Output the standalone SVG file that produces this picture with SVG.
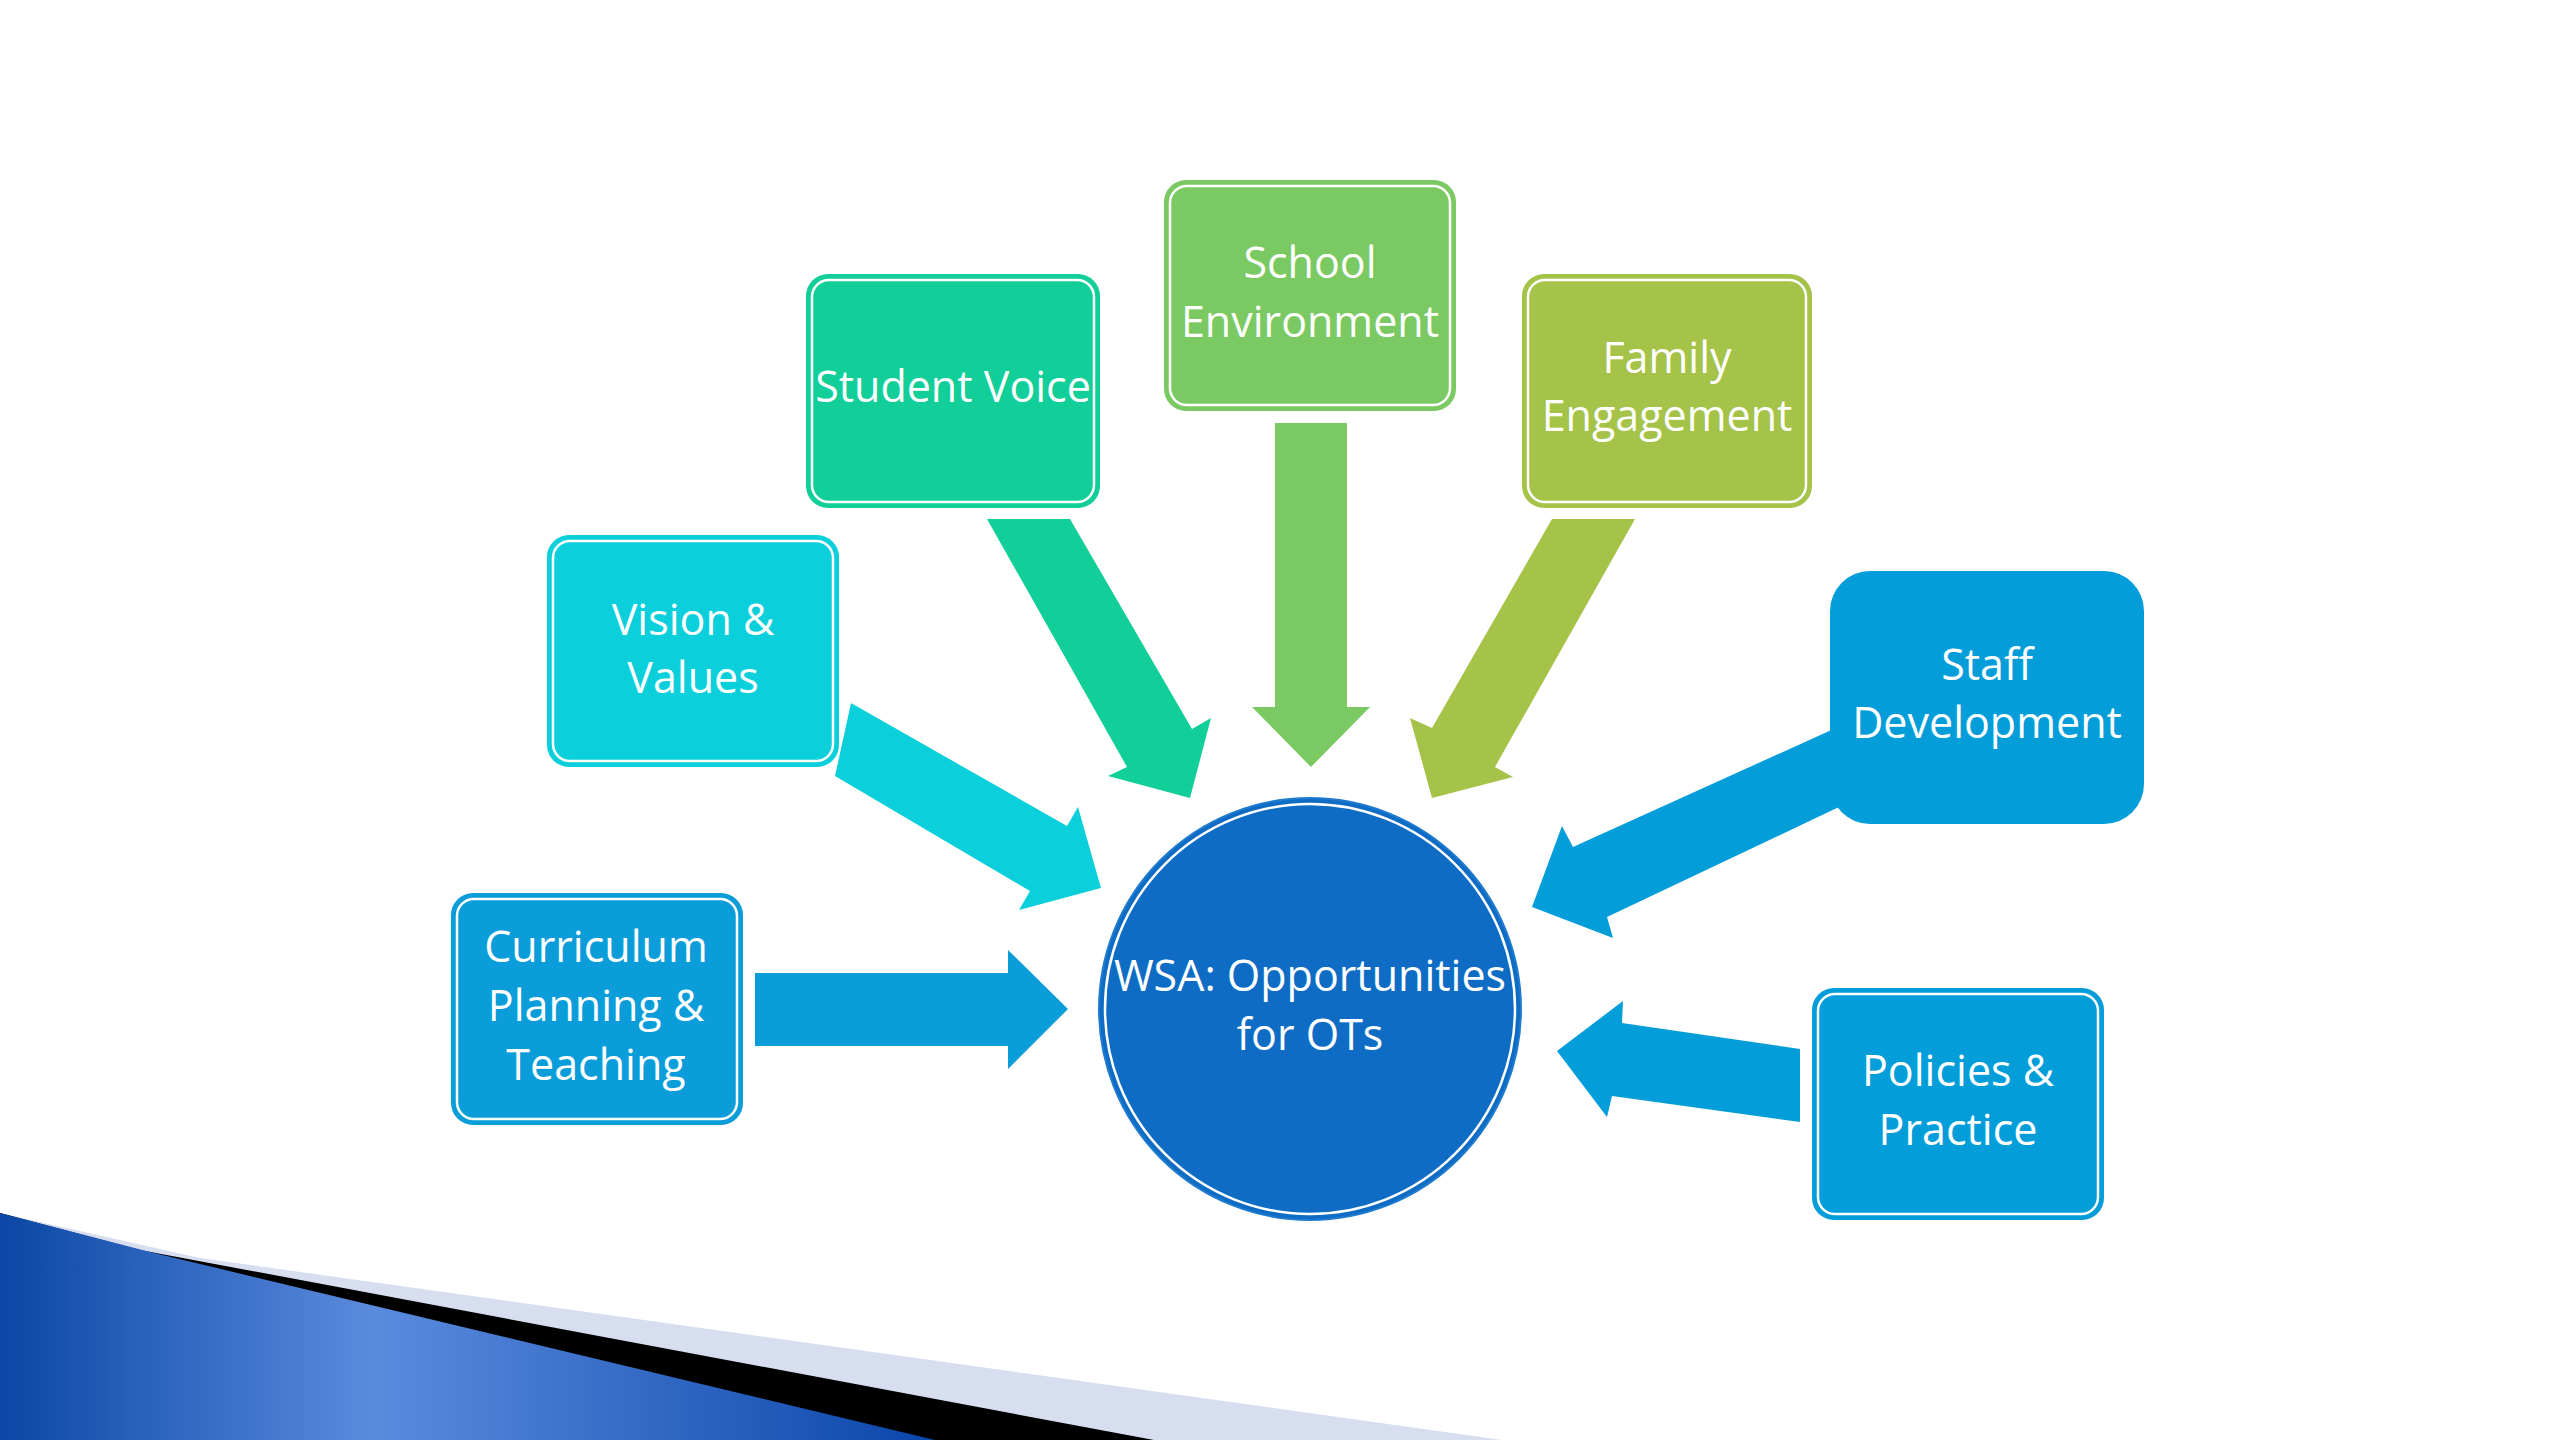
<svg xmlns="http://www.w3.org/2000/svg" width="2560" height="1440" viewBox="0 0 2560 1440">
<defs>
<style>
.lbl{font-family:"Open Sans","Noto Sans","DejaVu Sans",sans-serif;font-size:43px;fill:#ffffff;text-anchor:middle}
.inner{fill:none;stroke:#ffffff;stroke-width:2.5}
</style>
<linearGradient id="bg" x1="0" y1="0" x2="1" y2="0">
<stop offset="0" stop-color="#0B47A6"/>
<stop offset="0.4" stop-color="#5B8BDD"/>
<stop offset="1" stop-color="#0A46AB"/>
</linearGradient>
</defs>
<rect width="2560" height="1440" fill="#ffffff"/>
<g id="decoration">
<polygon points="0,1213 200,1258 1502,1440 0,1440" fill="#D6DEF0"/>
<polygon points="0,1213 140,1250 1154,1440 0,1440" fill="#000000"/>
<polygon points="0,1213 150,1252 935,1440 0,1440" fill="url(#bg)"/>
</g>
<g id="connectors">
<polygon points="755,973 1008,973 1008,950 1068,1009 1008,1069 1008,1046 755,1046" fill="#0A9DD9"/>
<polygon points="851,703 1067,826 1078,807 1101,888 1019,910 1030,891 835,776" fill="#0BCFDB"/>
<polygon points="987,519 1070,519 1192,729 1211,718 1190,798 1108,776 1127,767" fill="#12CE98"/>
<polygon points="1275,423 1347,423 1347,707 1370,707 1311,767 1252,707 1275,707" fill="#7BC962"/>
<polygon points="1552,519 1635,519 1495,767 1513,777 1432,798 1410,718 1432,728" fill="#A5C249"/>
<polygon points="1860,717 1573,847 1562,826 1532,907 1613,938 1607,917 1860,797" fill="#039DD9"/>
<polygon points="1800,1049 1622,1023 1623,1001 1557,1051 1607,1117 1612,1096 1800,1122" fill="#039DD9"/>
</g>
<g id="node-curriculum">
<rect x="451" y="893" width="292" height="232" rx="22" fill="#0A9DD9"/>
<rect x="457" y="899" width="280" height="220" rx="17" class="inner"/>
<text class="lbl" x="596" y="962">Curriculum</text>
<text class="lbl" x="596" y="1021">Planning &amp;</text>
<text class="lbl" x="596" y="1080">Teaching</text>
</g>
<g id="node-vision">
<rect x="547" y="535" width="292" height="232" rx="22" fill="#0BCFDB"/>
<rect x="553" y="541" width="280" height="220" rx="17" class="inner"/>
<text class="lbl" x="693" y="635">Vision &amp;</text>
<text class="lbl" x="693" y="693">Values</text>
</g>
<g id="node-student">
<rect x="806" y="274" width="294" height="234" rx="22" fill="#12CE98"/>
<rect x="812" y="280" width="282" height="222" rx="17" class="inner"/>
<text class="lbl" x="953" y="402">Student Voice</text>
</g>
<g id="node-school">
<rect x="1164" y="180" width="292" height="231" rx="22" fill="#7BC962"/>
<rect x="1170" y="186" width="280" height="219" rx="17" class="inner"/>
<text class="lbl" x="1310" y="278">School</text>
<text class="lbl" x="1310" y="337">Environment</text>
</g>
<g id="node-family">
<rect x="1522" y="274" width="290" height="234" rx="22" fill="#A5C249"/>
<rect x="1528" y="280" width="278" height="222" rx="17" class="inner"/>
<text class="lbl" x="1667" y="373">Family</text>
<text class="lbl" x="1667" y="431">Engagement</text>
</g>
<g id="node-staff">
<rect x="1830" y="571" width="314" height="253" rx="40" fill="#039DD9"/>
<text class="lbl" x="1987" y="680">Staff</text>
<text class="lbl" x="1987" y="738">Development</text>
</g>
<g id="node-policies">
<rect x="1812" y="988" width="292" height="232" rx="22" fill="#039DD9"/>
<rect x="1818" y="994" width="280" height="220" rx="17" class="inner"/>
<text class="lbl" x="1958" y="1086">Policies &amp;</text>
<text class="lbl" x="1958" y="1145">Practice</text>
</g>
<g id="node-center">
<circle cx="1310" cy="1009" r="211" fill="#0E6CC4" stroke="#1F7BD0" stroke-width="2"/>
<circle cx="1310" cy="1009" r="205" fill="none" stroke="#ffffff" stroke-width="2.5"/>
<text class="lbl" x="1310" y="991">WSA: Opportunities</text>
<text class="lbl" x="1310" y="1050">for OTs</text>
</g>
</svg>
